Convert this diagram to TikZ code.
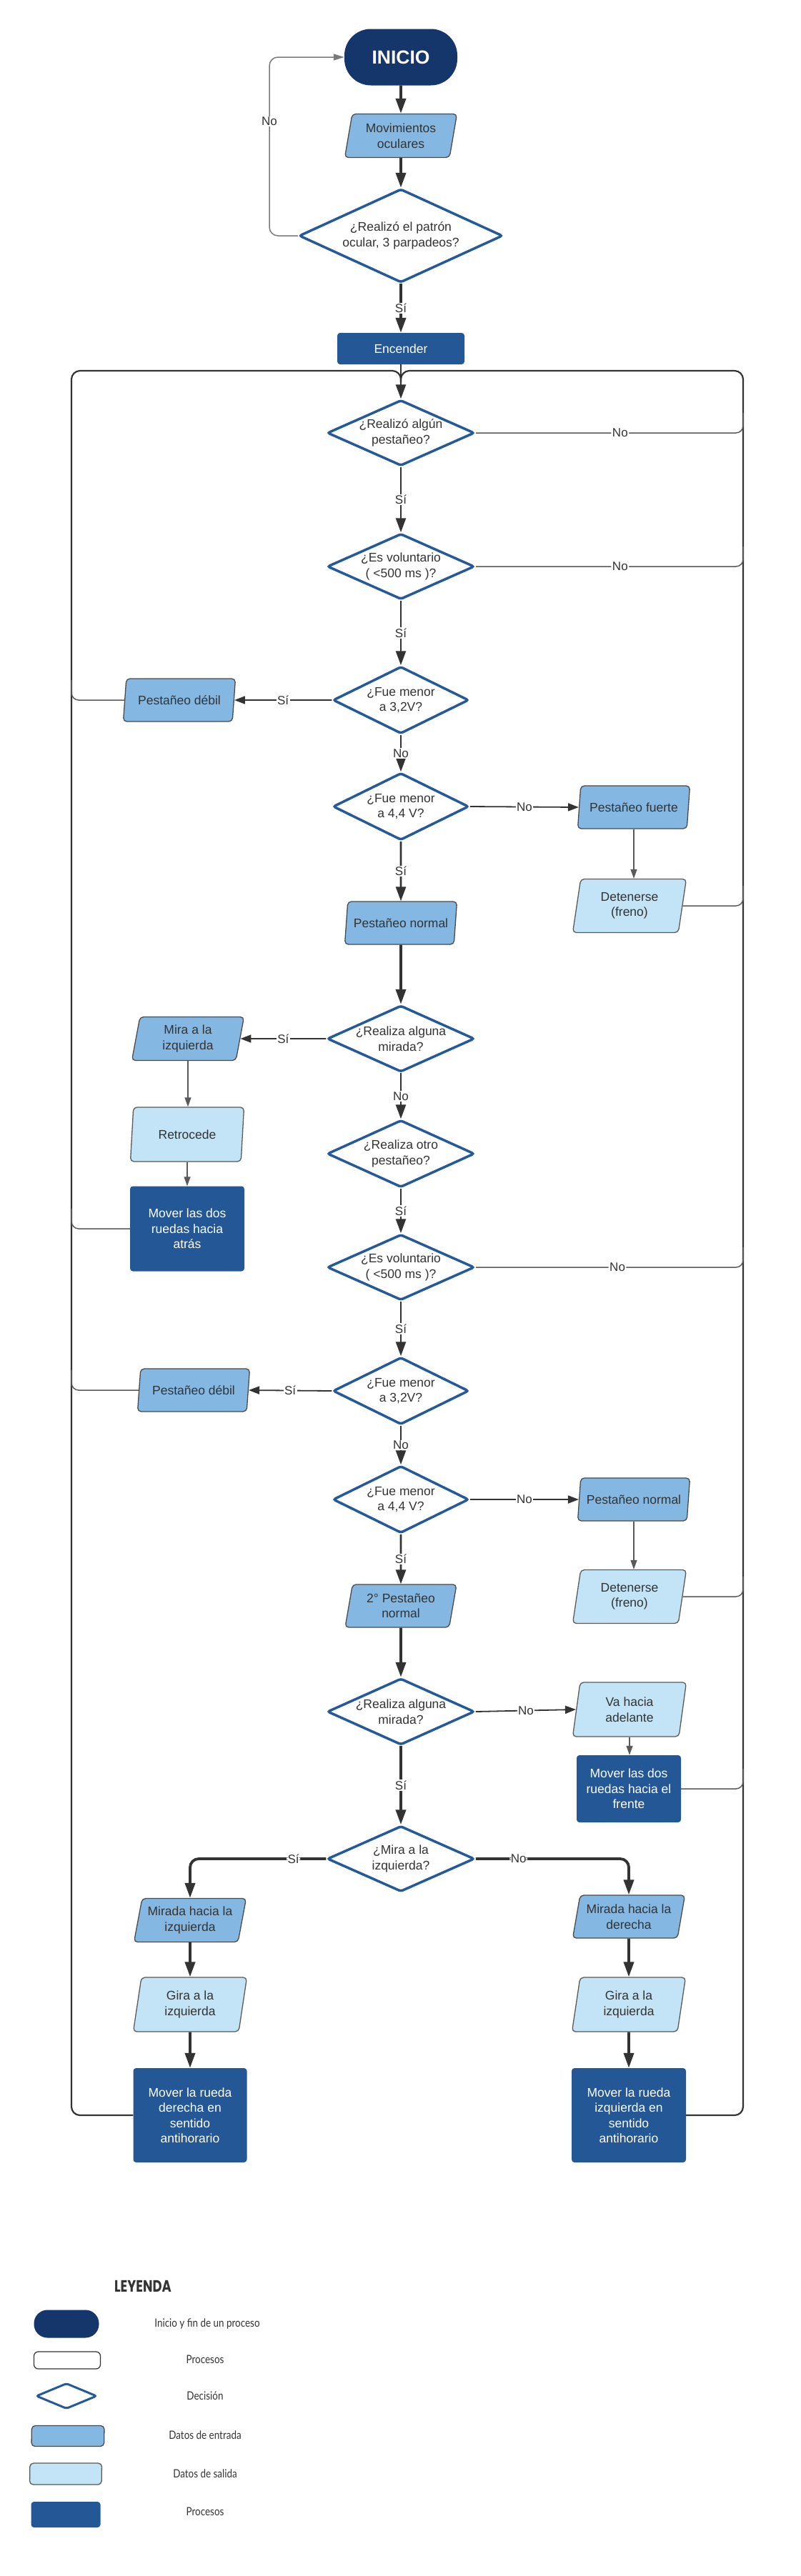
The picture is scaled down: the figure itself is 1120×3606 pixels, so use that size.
\documentclass[tikz,border=0pt]{standalone}
\usepackage{fontspec}
\usepackage{graphicx}
\setmainfont{Liberation Sans}
\newfontfamily\legfont{Lato}
\newfontfamily\leyfont{Poppins}
\usetikzlibrary{shapes.geometric,arrows.meta,calc}
\definecolor{navy}{HTML}{15366A}
\definecolor{procblue}{HTML}{245796}
\definecolor{decblue}{HTML}{245A9B}
\definecolor{inpblue}{HTML}{84B8E2}
\definecolor{outblue}{HTML}{C2E4F6}
\definecolor{txtgray}{HTML}{333333}
\definecolor{edgegray}{HTML}{4A4A4A}
\definecolor{linegray}{HTML}{5A5A5A}
\definecolor{loopgray}{HTML}{7A7A7A}
\newcommand\nodefont{\fontsize{17.5}{21.5}\selectfont}
\newcommand\dnode[5]{%
  \node[dec, minimum width=#3pt, minimum height=#4pt] (#1) at (#2) {};
  \node[dectext] (#1t) at (#1.center) {#5};}
\tikzset{
  nbase/.style={align=center, font=\nodefont, text=txtgray, inner sep=1pt},
  term/.style={nbase, rectangle, rounded corners=37pt, fill=navy, text=white, font=\fontsize{26.5}{30}\selectfont\bfseries},
  proc/.style={nbase, rectangle, rounded corners=4pt, fill=procblue, text=white},
  inp/.style={nbase, trapezium, trapezium left angle=74, trapezium right angle=106, trapezium stretches body, fill=inpblue, draw=edgegray, line width=1.3pt, rounded corners=5pt},
  outp/.style={inp, fill=outblue, draw=linegray},
  dec/.style={diamond, draw=decblue, line width=3.5pt, fill=white, inner sep=0pt, rounded corners=3pt},
  dectext/.style={nbase},
  lbl/.style={font=\fontsize{17}{20}\selectfont, text=txtgray, fill=white, inner sep=1.5pt},
  athick/.style={draw=txtgray, line width=3.8pt, -{Triangle[length=21pt,width=14pt]}},
  amed/.style={draw=txtgray, line width=2.6pt, -{Triangle[length=20pt,width=14pt]}},
  aside/.style={draw=txtgray, line width=1.8pt, -{Triangle[length=15pt,width=11pt]}},
  athin/.style={draw=linegray, line width=1.2pt, -{Triangle[length=13pt,width=9pt]}},
  myframe/.style={draw=txtgray, line width=2.2pt, rounded corners=12pt},
  ajoin/.style={draw=linegray, line width=1.5pt, rounded corners=10pt},
  loopl/.style={draw=loopgray, line width=1.5pt, rounded corners=12pt, -{Triangle[length=15pt,width=9pt]}},
  legtxt/.style={font=\legfont\fontsize{16}{19}\selectfont, text=txtgray},
}
\begin{document}
\begin{tikzpicture}[x=1pt,y=-1pt]
\fill[white] (0,0) rectangle (1120,3606);
\useasboundingbox (0,0) rectangle (1120,3606);

% ---------- nodes ----------
\node[term, minimum width=158pt, minimum height=79pt] (inicio) at (561,80) {INICIO};
\node[inp, minimum width=157pt, minimum height=61pt] (mov) at (561,190) {Movimientos\\oculares};
\dnode{d1}{561,330}{285}{131}{¿Realizó el patrón\\ocular, 3 parpadeos?}
\node[proc, minimum width=178pt, minimum height=44pt] (enc) at (561,488) {Encender};

\dnode{d2}{561,606}{206}{92}{¿Realizó algún\\pestañeo?}
\dnode{d3}{561,793}{206}{92}{¿Es voluntario\\( <500 ms )?}
\dnode{d4}{561,980}{190}{94}{¿Fue menor\\a 3,2V?}
\node[inp, minimum width=157pt, minimum height=60pt] (deb1) at (251,980) {Pestañeo débil};
\dnode{d5}{561,1129}{190}{94}{¿Fue menor\\a 4,4 V?}
\node[inp, minimum width=157pt, minimum height=60pt] (fuer) at (887,1130) {Pestañeo fuerte};
\node[outp, minimum width=159pt, minimum height=75pt] (det1) at (881,1268) {Detenerse\\(freno)};
\node[inp, minimum width=157pt, minimum height=60pt] (norm1) at (561,1292) {Pestañeo normal};

\dnode{d6}{561,1454}{206}{93}{¿Realiza alguna\\mirada?}
\node[inp, minimum width=157pt, minimum height=61pt] (mira) at (263,1454) {Mira a la\\izquierda};
\node[outp, minimum width=159pt, minimum height=76pt] (retro) at (262,1588) {Retrocede};
\node[proc, minimum width=160pt, minimum height=119pt] (atras) at (262,1720) {Mover las dos\\ruedas hacia\\atrás};
\dnode{d7}{561,1615}{206}{94}{¿Realiza otro\\pestañeo?}
\dnode{d8}{561,1774}{206}{92}{¿Es voluntario\\( <500 ms )?}
\dnode{d9}{561,1947}{190}{94}{¿Fue menor\\a 3,2V?}
\node[inp, minimum width=157pt, minimum height=60pt] (deb2) at (271,1946) {Pestañeo débil};
\dnode{d10}{561,2099}{190}{94}{¿Fue menor\\a 4,4 V?}
\node[inp, minimum width=157pt, minimum height=60pt] (norm2) at (887,2099) {Pestañeo normal};
\node[outp, minimum width=159pt, minimum height=75pt] (det2) at (881,2235) {Detenerse\\(freno)};
\node[inp, minimum width=156pt, minimum height=60pt] (norm3) at (561,2248) {2° Pestañeo\\normal};

\dnode{d11}{561,2396}{206}{93}{¿Realiza alguna\\mirada?}
\node[outp, minimum width=159pt, minimum height=76pt] (adel) at (881,2393) {Va hacia\\adelante};
\node[proc, minimum width=146pt, minimum height=94pt] (frente) at (880,2504) {Mover las dos\\ruedas hacia el\\frente};
\dnode{d12}{561,2602}{206}{92}{¿Mira a la\\izquierda?}
\node[inp, minimum width=157pt, minimum height=61pt] (mil) at (266,2688) {Mirada hacia la\\izquierda};
\node[outp, minimum width=159pt, minimum height=76pt] (gil) at (266,2806) {Gira a la\\izquierda};
\node[proc, minimum width=159pt, minimum height=132pt] (mrd) at (266,2961) {Mover la rueda\\derecha en\\sentido\\antihorario};
\node[inp, minimum width=157pt, minimum height=60pt] (mid) at (880,2683) {Mirada hacia la\\derecha};
\node[outp, minimum width=159pt, minimum height=76pt] (gir) at (880,2806) {Gira a la\\izquierda};
\node[proc, minimum width=160pt, minimum height=132pt] (mri) at (880,2961) {Mover la rueda\\izquierda en\\sentido\\antihorario};

% ---------- coordinates ----------
\coordinate (nlc) at (377,80);
\coordinate (fl) at (100,519);
\coordinate (fr) at (1040,519);
\coordinate (jt) at (561,535);

% ---------- frame ----------
\draw[myframe] (mrd.west) -| (fl) -| (jt);
\draw[myframe] (mri.east) -| (fr) -| (jt);

% ---------- connectors ----------
\draw[athick] (inicio.south) -- (mov.north);
\draw[athick] (mov.south) -- (d1.north);
\draw[athick] (d1.south) -- node[lbl] (l1) {Sí} (enc.north);
\draw[loopl] (d1.west) -| (nlc) -- (inicio.west);
\node[lbl] (l0) at (377,170) {No};
\draw[amed] (enc.south) -- (d2.north);

\draw[ajoin] (d2.east) -- node[lbl, pos=0.54] (l2) {No} (d2.east -| fr) -- ++(0,-28);
\draw[amed] (d2.south) -- node[lbl] (l3) {Sí} (d3.north);
\draw[ajoin] (d3.east) -- node[lbl, pos=0.54] (l4) {No} (d3.east -| fr) -- ++(0,-28);
\draw[amed] (d3.south) -- node[lbl] (l5) {Sí} (d4.north);
\draw[aside] (d4.west) -- node[lbl] (l6) {Sí} (deb1.east);
\draw[ajoin] (deb1.west) -- (deb1.west -| fl) -- ++(0,-28);
\draw[amed] (d4.south) -- node[lbl] (l7) {No} (d5.north);
\draw[aside] (d5.east) -- node[lbl] (l8) {No} (fuer.west);
\draw[athin] (fuer.south) -- (fuer.south |- det1.north);
\draw[ajoin] (det1.east) -- (det1.east -| fr) -- ++(0,-28);
\draw[amed] (d5.south) -- node[lbl] (l9) {Sí} (norm1.north);
\draw[athick] (norm1.south) -- (d6.north);

\draw[aside] (d6.west) -- node[lbl] (l10) {Sí} (mira.east);
\draw[athin] (mira.south) -- (mira.south |- retro.north);
\draw[athin] (retro.south) -- (retro.south |- atras.north);
\draw[ajoin] (atras.west) -- (atras.west -| fl) -- ++(0,-28);
\draw[amed] (d6.south) -- node[lbl] (l11) {No} (d7.north);
\draw[amed] (d7.south) -- node[lbl] (l12) {Sí} (d8.north);
\draw[ajoin] (d8.east) -- node[lbl, pos=0.53] (l13) {No} (d8.east -| fr) -- ++(0,-28);
\draw[amed] (d8.south) -- node[lbl] (l14) {Sí} (d9.north);
\draw[aside] (d9.west) -- node[lbl] (l15) {Sí} (deb2.east);
\draw[ajoin] (deb2.west) -- (deb2.west -| fl) -- ++(0,-28);
\draw[amed] (d9.south) -- node[lbl] (l16) {No} (d10.north);
\draw[aside] (d10.east) -- node[lbl] (l17) {No} (norm2.west);
\draw[athin] (norm2.south) -- (norm2.south |- det2.north);
\draw[ajoin] (det2.east) -- (det2.east -| fr) -- ++(0,-28);
\draw[amed] (d10.south) -- node[lbl] (l18) {Sí} (norm3.north);
\draw[athick] (norm3.south) -- (d11.north);

\draw[aside] (d11.east) -- node[lbl] (l19) {No} (adel.west);
\draw[athin] (adel.south) -- (adel.south |- frente.north);
\draw[ajoin] (frente.east) -- (frente.east -| fr) -- ++(0,-28);
\draw[athick] (d11.south) -- node[lbl] (l20) {Sí} (d12.north);
\draw[athick, rounded corners=12pt] (d12.west) -| node[lbl, pos=0.12] (l21) {Sí} (mil.north);
\draw[athick, rounded corners=12pt] (d12.east) -| node[lbl, pos=0.14] (l22) {No} (mid.north);
\draw[athick] (mil.south) -- (gil.north);
\draw[athick] (gil.south) -- (mrd.north);
\draw[athick] (mid.south) -- (gir.north);
\draw[athick] (gir.south) -- (mri.north);

% ---------- legend ----------
\node[font=\leyfont\bfseries\fontsize{23}{26}\selectfont, text=txtgray] (ley) at (200,3200) {\scalebox{0.78}[1]{LEYENDA}};
\node[term, rounded corners=19pt, minimum width=91pt, minimum height=39pt] (lg1) at (93,3253) {};
\node[rectangle, draw=txtgray, line width=1.2pt, rounded corners=6pt, minimum width=93pt, minimum height=24pt] (lg2) at (94,3304) {};
\node[dec, line width=3pt, minimum width=85pt, minimum height=36pt] (lg3) at (93,3354) {};
\node[inp, trapezium left angle=78, trapezium right angle=102, minimum width=102pt, minimum height=29pt] (lg4) at (95,3410) {};
\node[outp, trapezium left angle=78, trapezium right angle=102, minimum width=101pt, minimum height=30pt] (lg5) at (92,3463) {};
\node[proc, minimum width=97pt, minimum height=36pt] (lg6) at (92,3520) {};
\node[legtxt] (lt1) at (290,3253) {\scalebox{0.84}[1]{Inicio y fin de un proceso}};
\node[legtxt] (lt2) at (287,3303) {\scalebox{0.84}[1]{Procesos}};
\node[legtxt] (lt3) at (287,3354) {\scalebox{0.84}[1]{Decisión}};
\node[legtxt] (lt4) at (287,3409) {\scalebox{0.84}[1]{Datos de entrada}};
\node[legtxt] (lt5) at (287,3463) {\scalebox{0.84}[1]{Datos de salida}};
\node[legtxt] (lt6) at (287,3516) {\scalebox{0.84}[1]{Procesos}};
\end{tikzpicture}
\end{document}
